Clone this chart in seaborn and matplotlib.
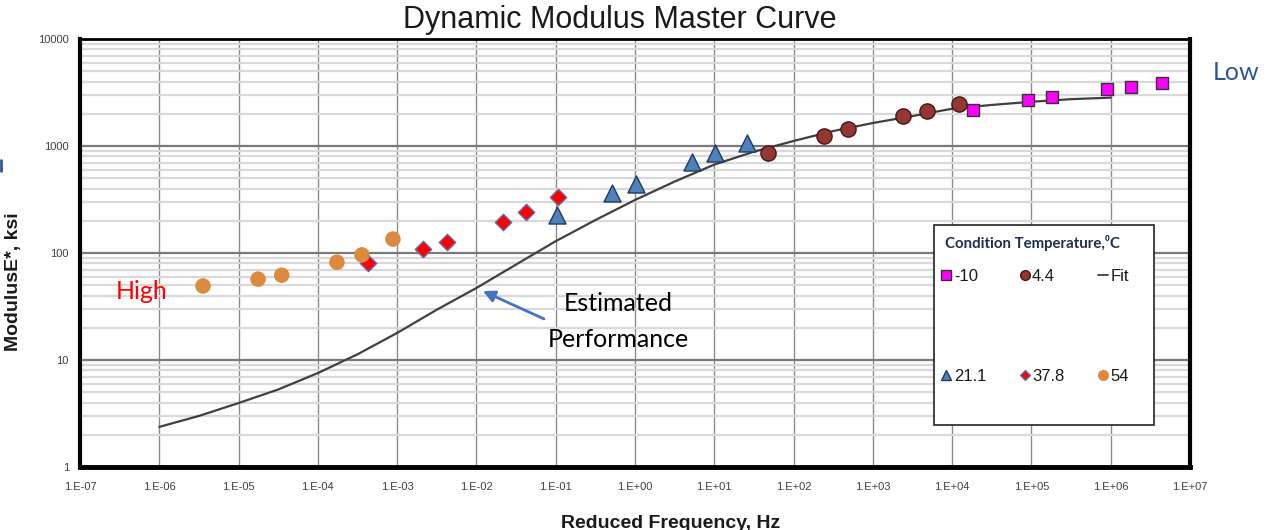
import matplotlib
matplotlib.use("Agg")
import matplotlib.pyplot as plt
import seaborn as sns
import pandas as pd
from matplotlib.lines import Line2D
from matplotlib.patches import Rectangle
from matplotlib.ticker import LogLocator, FixedLocator, NullFormatter

# ---------------- data ----------------
neg10_freq = [1.82e4, 9.0e4, 1.8e5, 8.9e5, 1.79e6, 4.4e6]
neg10_mod = [2170, 2690, 2870, 3410, 3560, 3880]

t44_freq = [47.4, 241, 484, 2390, 4800, 12160]
t44_mod = [860, 1240, 1442, 1907, 2124, 2470]

t211_freq = [0.1035, 0.51, 1.03, 5.2, 10.2, 25.8]
t211_mod = [226, 364, 442, 708, 860, 1067]

t378_freq = [4.3e-4, 2.1e-3, 4.25e-3, 0.0216, 0.042, 0.107]
t378_mod = [80.7, 109, 127, 195, 242, 334]

t54_freq = [3.56e-6, 1.76e-5, 3.5e-5, 1.74e-4, 3.6e-4, 8.85e-4]
t54_mod = [49.2, 57, 62, 82, 96, 135]

fit_freq = [1e-6, 3.16e-6, 1e-5, 3.16e-5, 1e-4, 3.16e-4, 1e-3, 3.16e-3,
            1e-2, 3.16e-2, 0.1, 0.316, 1, 3.16, 10, 31.6, 100, 316,
            1000, 3160, 1e4, 3.16e4, 1e5, 3.16e5, 1e6]
fit_mod = [2.37, 3.0, 3.96, 5.3, 7.55, 11.3, 17.9, 29.5, 47.1, 78, 129,
           203, 313, 465, 670, 885, 1114, 1380, 1640, 1905, 2230, 2420,
           2590, 2740, 2830]

x_ticks = [1e-7, 1e-6, 1e-5, 1e-4, 1e-3, 1e-2, 1e-1, 1e0, 1e1, 1e2, 1e3,
           1e4, 1e5, 1e6, 1e7]
x_tick_labels = ["1.E-07", "1.E-06", "1.E-05", "1.E-04", "1.E-03", "1.E-02",
                 "1.E-01", "1.E+00", "1.E+01", "1.E+02", "1.E+03", "1.E+04",
                 "1.E+05", "1.E+06", "1.E+07"]
y_ticks = [1, 10, 100, 1000, 10000]
y_tick_labels = ["1", "10", "100", "1000", "10000"]

series_labels = ["-10", "4.4", "21.1", "37.8", "54"]

# ---------------- style ----------------
sns.set_style("white")
plt.rcParams["font.family"] = ["Liberation Sans", "DejaVu Sans"]

fig = plt.figure(figsize=(12.7, 5.3), dpi=100)
ax = fig.add_axes([80 / 1270, 1 - 467 / 530, 1110 / 1270, 428 / 530])

ax.set_xscale("log")
ax.set_yscale("log")

styles = [
    (neg10_freq, neg10_mod, "s", "#FF00FF", "#333333", 85, 1.0),
    (t44_freq, t44_mod, "o", "#943634", "#4a1515", 120, 1.0),
    (t211_freq, t211_mod, "^", "#4F81BD", "#1F3A60", 150, 1.0),
    (t378_freq, t378_mod, "D", "#FF0000", "#6070B0", 70, 1.0),
    (t54_freq, t54_mod, "o", "#DC8A40", "none", 125, 0.0),
]

df_fit = pd.DataFrame({"freq": fit_freq, "mod": fit_mod})
sns.lineplot(data=df_fit, x="freq", y="mod", color="#404040", lw=1.6,
             ax=ax, zorder=2, estimator=None)

for (fx, fy, mk, fc, ec, s, lw), lab in zip(styles, series_labels):
    df = pd.DataFrame({"freq": fx, "mod": fy})
    sns.scatterplot(data=df, x="freq", y="mod", marker=mk, color=fc,
                    edgecolor=ec, s=s, linewidth=lw, ax=ax, zorder=3)

ax.set_xlim(1e-7, 1e7)
ax.set_ylim(1, 1e4)

ax.xaxis.set_major_locator(FixedLocator(x_ticks))
ax.set_xticklabels(x_tick_labels)
ax.xaxis.set_minor_formatter(NullFormatter())
ax.xaxis.set_minor_locator(FixedLocator([]))
ax.yaxis.set_major_locator(FixedLocator(y_ticks))
ax.set_yticklabels(y_tick_labels)
ax.yaxis.set_minor_locator(LogLocator(base=10, subs=[2, 3, 4, 5, 6, 7, 8, 9], numticks=20))
ax.yaxis.set_minor_formatter(NullFormatter())

ax.tick_params(axis="both", which="major", direction="out", length=4,
               width=1, color="#333333", labelsize=8, labelcolor="#404040")
ax.tick_params(axis="x", which="major", pad=7)
ax.tick_params(axis="y", which="major", pad=4)
ax.tick_params(which="minor", length=0)

ax.set_axisbelow(True)
ax.grid(which="minor", axis="y", color="#d9d9d9", lw=1.6)
ax.grid(which="major", axis="y", color="#7a7a7a", lw=1.6)
ax.grid(which="major", axis="x", color="#8a8a8a", lw=1.0)

for side, lw in [("left", 3), ("bottom", 3.5), ("right", 3), ("top", 2)]:
    ax.spines[side].set_visible(True)
    ax.spines[side].set_color("black")
    ax.spines[side].set_linewidth(lw)

ax.set_xlabel("Reduced Frequency, Hz", fontsize=14, fontweight="bold",
              color="#1a1a1a")
ax.xaxis.set_label_coords(0.532, -0.112)
ax.set_ylabel("ModulusE*, ksi", fontsize=14, fontweight="bold",
              color="#1a1a1a")
ax.yaxis.set_label_coords(-0.052, 0.432)

fig.text(620 / 1270, 1 - 20 / 530, "Dynamic Modulus Master Curve",
         fontsize=22, ha="center", va="center", color="#1a1a1a")

# annotations
ann_font = ["Lato", "DejaVu Sans"]
ax.text(0.0559, 0.409, "High", transform=ax.transAxes, color="#FF0000",
        fontsize=18, ha="center", va="center", family=ann_font)
fig.text(1236 / 1270, 1 - 73 / 530, "Low", color="#2F5597", fontsize=18,
         ha="center", va="center", family=ann_font)
ax.text(0.485, 0.383, "Estimated", transform=ax.transAxes, color="black",
        fontsize=18, ha="center", va="center", family=ann_font)
ax.text(0.485, 0.297, "Performance", transform=ax.transAxes, color="black",
        fontsize=18, ha="center", va="center", family=ann_font)
ax.annotate("", xy=(0.363, 0.411), xycoords="axes fraction",
            xytext=(0.418, 0.346), textcoords="axes fraction",
            arrowprops=dict(arrowstyle="-|>,head_length=0.7,head_width=0.35",
                            color="#4472C4", lw=2, shrinkA=0, shrinkB=0))

# small cut-off mark at left edge
fig.add_artist(Line2D([0.0008, 0.0008], [1 - 160 / 530, 1 - 171 / 530],
                      color="#2F5597", lw=2))

# legend
ax.add_patch(Rectangle((0.769, 0.098), 0.199, 0.467, transform=ax.transAxes,
                       facecolor="white", edgecolor="#222222", lw=1.2,
                       zorder=5))
ax.text(0.779, 0.523, "Condition Temperature,\u2070C", transform=ax.transAxes,
        fontsize=10.8, fontweight="bold", color="#1F2F50", ha="left",
        va="center", family=ann_font, zorder=7)

handles = [
    Line2D([], [], marker="s", ls="none", markerfacecolor="#FF00FF",
           markeredgecolor="#333333", markersize=7),
    Line2D([], [], marker="^", ls="none", markerfacecolor="#4F81BD",
           markeredgecolor="#1F3A60", markersize=7),
    Line2D([], [], marker="o", ls="none", markerfacecolor="#943634",
           markeredgecolor="#4a1515", markersize=7),
    Line2D([], [], marker="D", ls="none", markerfacecolor="#FF0000",
           markeredgecolor="#6070B0", markersize=5),
    Line2D([], [], color="#404040", lw=1.3),
    Line2D([], [], marker="o", ls="none", markerfacecolor="#DC8A40",
           markeredgecolor="#DC8A40", markersize=7),
]
labels = ["-10", "21.1", "4.4", "37.8", "Fit", "54"]
leg = ax.legend(handles, labels, ncol=3, loc="upper left",
                bbox_to_anchor=(0.776, 0.462), frameon=False, fontsize=12,
                handlelength=0.6, handletextpad=0.15, columnspacing=2.0,
                labelspacing=5.1, borderpad=0, borderaxespad=0)
for t in leg.get_texts():
    t.set_color("#1a1a1a")
leg.set_zorder(7)

fig.savefig("out.png", dpi=100)
